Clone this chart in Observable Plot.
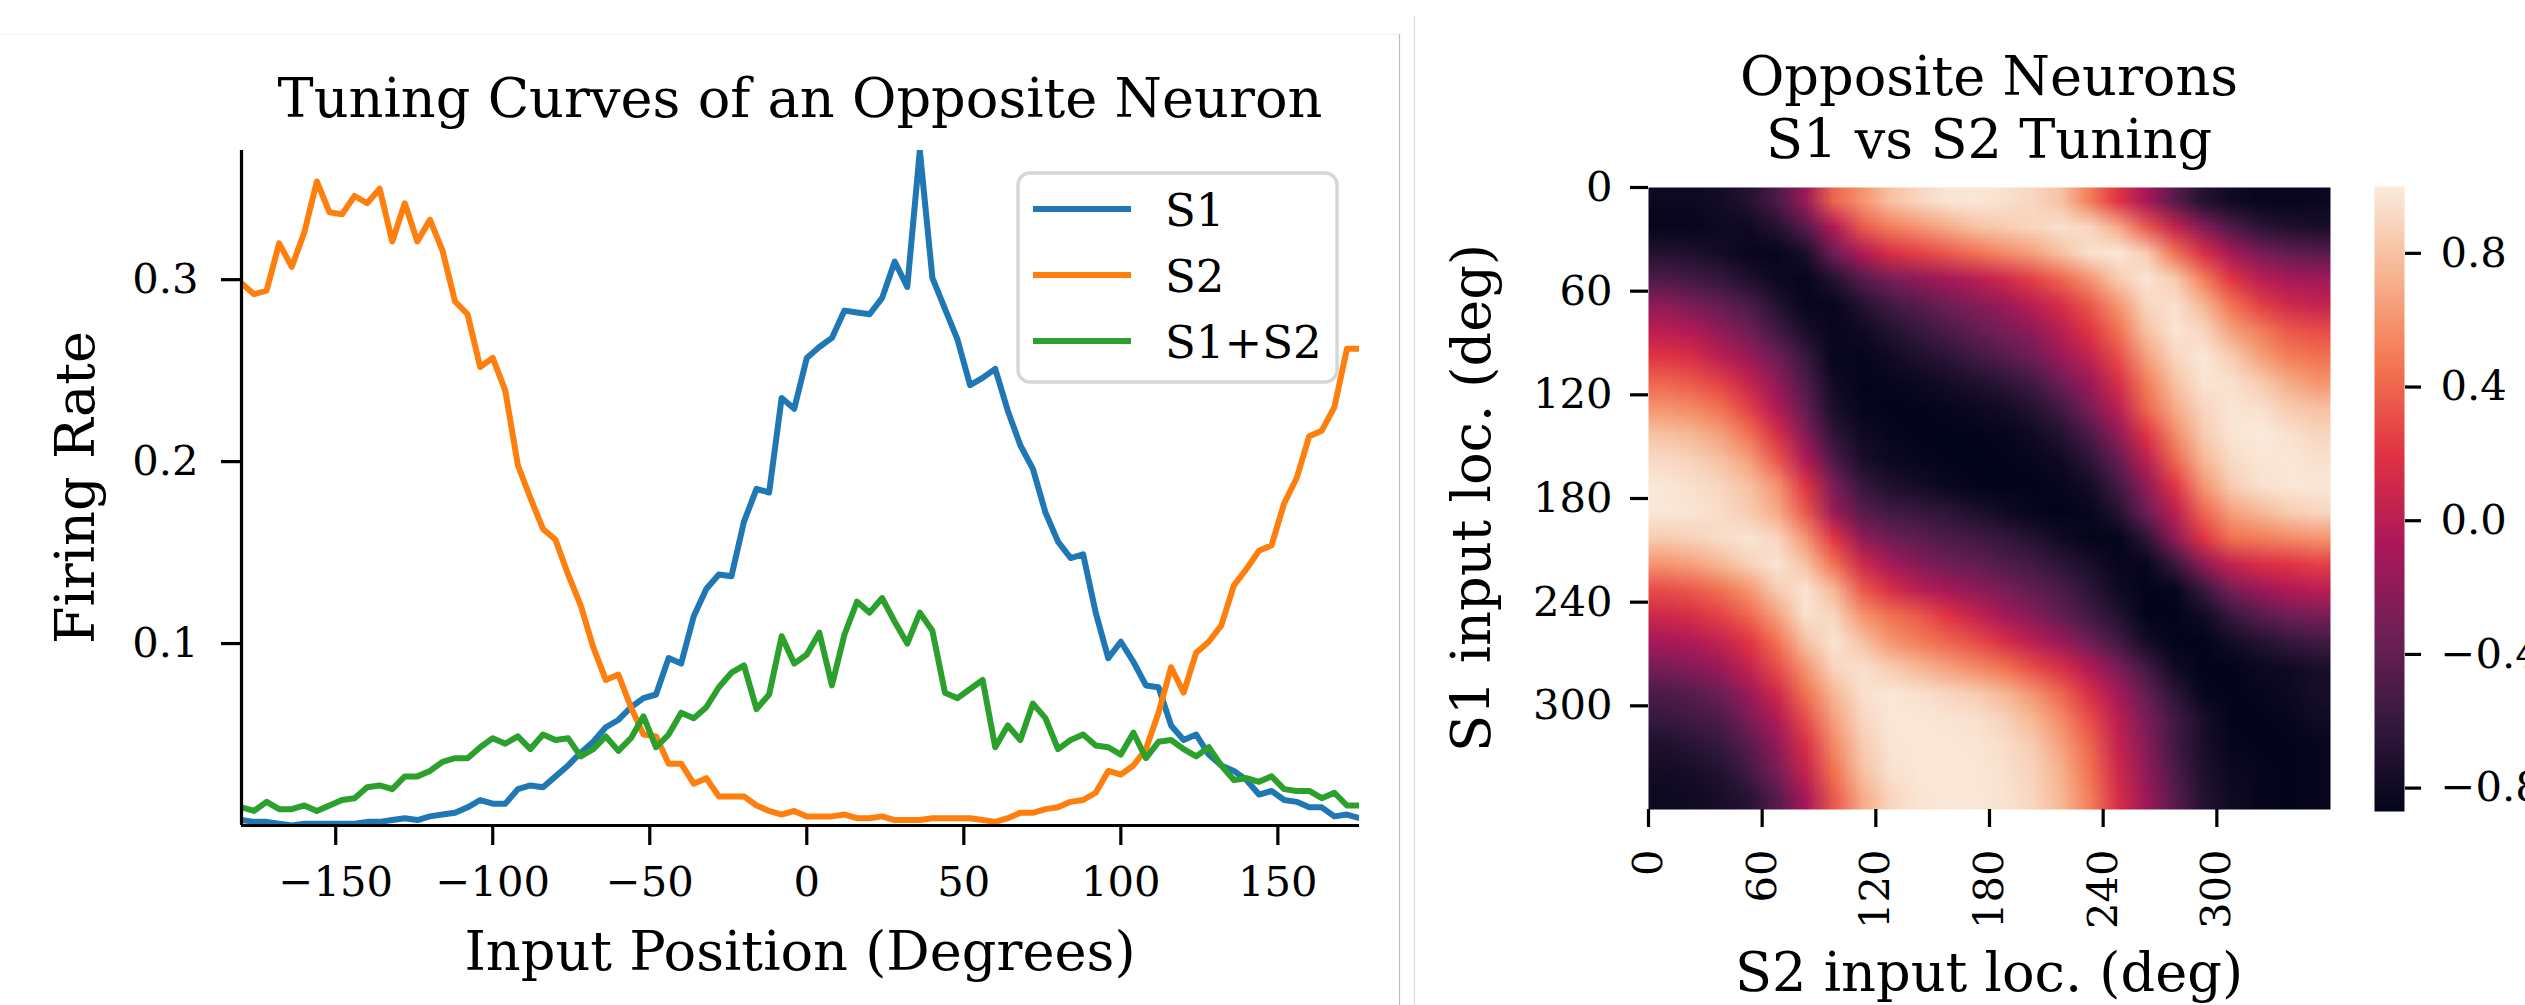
<!DOCTYPE html>
<html><head><meta charset="utf-8">
<script src="https://cdn.jsdelivr.net/npm/d3@7"></script>
<script src="https://cdn.jsdelivr.net/npm/@observablehq/plot@0.6"></script>
<style>
html,body{margin:0;padding:0;background:#fff;overflow:hidden;}
#root{position:relative;width:2525px;height:1005px;overflow:hidden;font-family:"DejaVu Serif",serif;color:#000;background:#fff;}
#root svg{position:absolute;max-width:none;background:transparent;}
</style></head><body><div id="root"></div>
<script>
// ---------- Data: tuning curves (left panel) ----------
const inputPosition = [
 -180,-176,-172,-168,-164,-160,-156,-152,-148,-144,-140,-136,-132,-128,-124,-120,-116,-112,-108,-104,
 -100,-96,-92,-88,-84,-80,-76,-72,-68,-64,-60,-56,-52,-48,-44,-40,-36,-32,-28,-24,
 -20,-16,-12,-8,-4,0,4,8,12,16,20,24,28,32,36,40,44,48,52,56,
 60,64,68,72,76,80,84,88,92,96,100,104,108,112,116,120,124,128,132,136,
 140,144,148,152,156,160,164,168,172,176];
const rateS1 = [
 0.003,0.002,0.002,0.001,0.000,0.001,0.001,0.001,0.001,0.001,
 0.002,0.002,0.003,0.004,0.003,0.005,0.006,0.007,0.010,0.014,
 0.012,0.012,0.020,0.022,0.021,0.027,0.033,0.040,0.046,0.054,
 0.058,0.065,0.070,0.072,0.092,0.089,0.115,0.130,0.138,0.137,
 0.167,0.185,0.183,0.235,0.229,0.257,0.263,0.268,0.283,0.282,
 0.281,0.290,0.310,0.296,0.371,0.301,0.284,0.267,0.242,0.246,
 0.251,0.228,0.209,0.196,0.172,0.156,0.147,0.149,0.117,0.092,
 0.101,0.090,0.077,0.076,0.055,0.047,0.050,0.039,0.033,0.030,
 0.025,0.017,0.019,0.014,0.013,0.010,0.010,0.005,0.006,0.004];
const rateS2 = [
 0.298,0.292,0.294,0.320,0.307,0.326,0.354,0.337,0.336,0.346,
 0.342,0.350,0.321,0.342,0.321,0.333,0.316,0.288,0.281,0.252,
 0.257,0.239,0.198,0.180,0.163,0.157,0.138,0.121,0.098,0.080,
 0.083,0.065,0.050,0.049,0.034,0.034,0.023,0.026,0.016,0.016,
 0.016,0.011,0.008,0.006,0.008,0.005,0.005,0.005,0.006,0.004,
 0.004,0.005,0.003,0.003,0.003,0.004,0.004,0.004,0.004,0.003,
 0.002,0.004,0.007,0.007,0.009,0.010,0.013,0.014,0.018,0.030,
 0.028,0.033,0.042,0.062,0.087,0.073,0.095,0.101,0.110,0.132,
 0.141,0.151,0.154,0.177,0.191,0.214,0.217,0.230,0.262,0.262];
const rateS1S2 = [
 0.010,0.008,0.013,0.009,0.009,0.011,0.008,0.011,0.014,0.015,
 0.021,0.022,0.020,0.027,0.027,0.030,0.035,0.037,0.037,0.043,
 0.048,0.045,0.049,0.042,0.050,0.047,0.048,0.038,0.042,0.049,
 0.041,0.048,0.060,0.043,0.050,0.062,0.059,0.065,0.076,0.084,
 0.088,0.064,0.072,0.104,0.089,0.094,0.106,0.077,0.105,0.123,
 0.117,0.125,0.112,0.100,0.117,0.107,0.073,0.070,0.075,0.080,
 0.043,0.055,0.047,0.067,0.059,0.042,0.047,0.050,0.044,0.043,
 0.039,0.051,0.037,0.046,0.047,0.042,0.038,0.043,0.033,0.025,
 0.026,0.024,0.027,0.020,0.019,0.019,0.015,0.018,0.011,0.011];
const seriesNames = ["S1", "S2", "S1+S2"];
const xTicks = [-150, -100, -50, 0, 50, 100, 150];
const yTicks = [0.1, 0.2, 0.3];

// ---------- Data: S1 vs S2 tuning map (right panel), sampled every 15 deg ----------
// rows: S1 location (7.5 .. 352.5 deg), columns: S2 location (7.5 .. 352.5 deg)
const mapValues = [
 [-0.82,-0.82,-0.78,-0.70,-0.50,-0.15,0.40,0.60,0.80,0.90,0.97,0.98,0.95,0.90,0.80,0.50,0.20,-0.10,-0.45,-0.70,-0.80,-0.85,-0.85,-0.83],
 [-0.85,-0.85,-0.82,-0.80,-0.70,-0.45,-0.05,0.35,0.50,0.60,0.70,0.80,0.85,0.90,0.95,0.90,0.70,0.35,0.05,-0.25,-0.50,-0.65,-0.72,-0.75],
 [-0.70,-0.72,-0.78,-0.85,-0.85,-0.75,-0.35,-0.05,0.15,0.25,0.35,0.45,0.55,0.65,0.80,0.95,0.98,0.85,0.45,0.15,-0.10,-0.30,-0.40,-0.45],
 [-0.50,-0.55,-0.62,-0.72,-0.82,-0.85,-0.70,-0.45,-0.30,-0.20,-0.10,0.00,0.10,0.25,0.40,0.60,0.85,0.97,0.85,0.50,0.20,0.00,-0.10,-0.12],
 [-0.20,-0.30,-0.40,-0.50,-0.70,-0.85,-0.85,-0.70,-0.55,-0.45,-0.35,-0.25,-0.15,0.00,0.15,0.35,0.60,0.90,0.95,0.75,0.45,0.25,0.10,0.05],
 [0.00,-0.05,-0.20,-0.35,-0.55,-0.75,-0.85,-0.80,-0.70,-0.60,-0.50,-0.40,-0.30,-0.20,0.00,0.20,0.45,0.80,0.97,0.90,0.65,0.50,0.35,0.30],
 [0.20,0.15,0.00,-0.15,-0.35,-0.60,-0.85,-0.85,-0.80,-0.72,-0.65,-0.55,-0.45,-0.35,-0.15,0.05,0.30,0.65,0.90,0.98,0.85,0.65,0.50,0.45],
 [0.40,0.35,0.25,0.05,-0.20,-0.50,-0.80,-0.87,-0.85,-0.82,-0.78,-0.72,-0.65,-0.55,-0.35,-0.15,0.15,0.50,0.80,0.97,0.95,0.85,0.70,0.60],
 [0.60,0.55,0.45,0.25,-0.05,-0.40,-0.75,-0.85,-0.87,-0.87,-0.85,-0.82,-0.78,-0.70,-0.55,-0.30,0.00,0.40,0.70,0.90,0.97,0.95,0.85,0.80],
 [0.80,0.75,0.65,0.45,0.15,-0.25,-0.65,-0.80,-0.85,-0.87,-0.87,-0.87,-0.85,-0.80,-0.70,-0.50,-0.20,0.20,0.55,0.85,0.97,1.00,0.95,0.90],
 [0.92,0.88,0.80,0.65,0.35,-0.05,-0.50,-0.75,-0.82,-0.85,-0.87,-0.87,-0.87,-0.85,-0.80,-0.65,-0.40,0.00,0.40,0.75,0.92,0.97,0.98,0.95],
 [0.98,0.95,0.90,0.80,0.60,0.20,-0.30,-0.60,-0.72,-0.78,-0.83,-0.87,-0.87,-0.87,-0.85,-0.78,-0.55,-0.20,0.20,0.60,0.85,0.95,0.98,0.98],
 [0.98,0.97,0.93,0.85,0.70,0.35,-0.15,-0.45,-0.55,-0.60,-0.65,-0.72,-0.80,-0.85,-0.87,-0.85,-0.70,-0.35,0.00,0.40,0.65,0.75,0.85,0.90],
 [0.85,0.88,0.93,0.97,0.90,0.60,0.20,-0.20,-0.35,-0.42,-0.50,-0.55,-0.62,-0.70,-0.80,-0.86,-0.87,-0.65,-0.20,0.20,0.45,0.50,0.55,0.60],
 [0.60,0.65,0.75,0.88,0.97,0.80,0.45,0.10,-0.10,-0.25,-0.35,-0.40,-0.48,-0.55,-0.65,-0.75,-0.85,-0.85,-0.60,-0.20,0.05,0.15,0.20,0.25],
 [0.30,0.35,0.45,0.60,0.85,0.97,0.75,0.35,0.15,0.00,-0.10,-0.20,-0.30,-0.40,-0.50,-0.65,-0.80,-0.87,-0.85,-0.60,-0.30,-0.15,-0.05,0.00],
 [0.10,0.15,0.25,0.40,0.65,0.95,0.90,0.60,0.45,0.35,0.20,0.05,-0.10,-0.25,-0.40,-0.55,-0.70,-0.87,-0.87,-0.80,-0.60,-0.45,-0.35,-0.30],
 [-0.10,-0.05,0.05,0.20,0.45,0.80,0.97,0.80,0.60,0.50,0.40,0.30,0.15,0.00,-0.15,-0.35,-0.55,-0.78,-0.87,-0.87,-0.78,-0.70,-0.62,-0.55],
 [-0.30,-0.25,-0.15,0.05,0.30,0.60,0.90,0.95,0.85,0.75,0.65,0.55,0.45,0.30,0.15,-0.05,-0.30,-0.55,-0.80,-0.87,-0.87,-0.82,-0.80,-0.75],
 [-0.50,-0.45,-0.35,-0.15,0.10,0.45,0.75,0.95,0.98,0.95,0.90,0.85,0.75,0.60,0.40,0.15,-0.10,-0.40,-0.65,-0.85,-0.87,-0.85,-0.82,-0.75],
 [-0.60,-0.55,-0.50,-0.30,-0.05,0.30,0.65,0.90,0.98,0.98,0.97,0.95,0.88,0.75,0.55,0.30,0.00,-0.30,-0.55,-0.75,-0.87,-0.87,-0.85,-0.80],
 [-0.72,-0.68,-0.60,-0.45,-0.20,0.15,0.55,0.85,0.97,0.98,0.98,0.97,0.93,0.85,0.65,0.40,0.05,-0.25,-0.55,-0.75,-0.85,-0.87,-0.87,-0.85],
 [-0.78,-0.75,-0.70,-0.55,-0.30,0.05,0.45,0.80,0.95,0.98,0.98,0.98,0.95,0.88,0.72,0.45,0.10,-0.20,-0.50,-0.72,-0.82,-0.85,-0.87,-0.85],
 [-0.82,-0.80,-0.75,-0.68,-0.45,-0.10,0.35,0.70,0.90,0.97,0.98,0.98,0.96,0.90,0.75,0.50,0.15,-0.15,-0.45,-0.70,-0.80,-0.85,-0.87,-0.85]
];
const mapTicks = [0, 60, 120, 180, 240, 300];
const colorbarTicks = [-0.8, -0.4, 0.0, 0.4, 0.8];

// ---------- Styles ----------
const FONT = "DejaVu Serif";
const TICK_FS = 41.7, LABEL_FS = 54.2, LEGEND_FS = 45;
const seriesColors = ["#1f77b4", "#ff7f0e", "#2ca02c"];
const rocketStops = ["#03051a","#35193e","#701f57","#ad1759","#e13342","#f37651","#f6b48f","#faebdd"];
const rocket = d3.piecewise(d3.interpolateRgb, rocketStops);

const root = document.getElementById("root");
function place(svg, left, top) {
  svg.style.left = left + "px"; svg.style.top = top + "px";
  root.appendChild(svg);
}

// ---------- Left panel: line chart ----------
const rows = [];
[rateS1, rateS2, rateS1S2].forEach((arr, s) =>
  arr.forEach((v, i) => rows.push({x: inputPosition[i], rate: v, series: seriesNames[s]})));
const xDomain = d3.extent(inputPosition);
const yDomain = d3.extent(rows, d => d.rate);

const left = Plot.plot({
  width: 1400, height: 1005,
  marginLeft: 241, marginRight: 41, marginTop: 150, marginBottom: 180,
  style: {fontFamily: FONT, background: "transparent", color: "#000", overflow: "visible"},
  x: {domain: xDomain, axis: null},
  y: {domain: yDomain, axis: null},
  marks: [
    ...seriesNames.map((name, s) =>
      Plot.line(rows.filter(d => d.series === name),
        {x: "x", y: "rate", stroke: seriesColors[s], strokeWidth: 6, clip: true,
         strokeLinejoin: "round", strokeLinecap: "butt"})),
    Plot.ruleX([xDomain[0]], {stroke: "#000", strokeWidth: 3.2}),
    Plot.ruleY([yDomain[0]], {stroke: "#000", strokeWidth: 3.2}),
    Plot.axisX({anchor: "bottom", ticks: xTicks, tickFormat: d3.format("d"), tickSize: 20, tickPadding: 21,
      strokeWidth: 3.2, fontSize: TICK_FS, label: null}),
    Plot.axisY({anchor: "left", ticks: yTicks, tickFormat: d3.format(".1f"), tickSize: 20, tickPadding: 23,
      strokeWidth: 3.2, fontSize: TICK_FS, label: null})
  ]
});
place(left, 0, 0);

// ---------- Right panel: heatmap ----------
const gridH = mapValues.length, gridW = mapValues[0].length;
const flatValues = mapValues.flat();
const colorDomain = d3.extent(flatValues);
const colorScale = {type: "linear", domain: colorDomain, interpolate: rocket};
const angleDomain = [0, 360];

const heat = Plot.plot({
  width: 940, height: 1005,
  marginLeft: 248, marginRight: 10, marginTop: 187, marginBottom: 196,
  style: {fontFamily: FONT, background: "transparent", color: "#000", overflow: "visible"},
  x: {domain: angleDomain, axis: null},
  y: {domain: angleDomain, reverse: true, axis: null},
  color: colorScale,
  marks: [
    Plot.raster(flatValues, {width: gridW, height: gridH,
      x1: angleDomain[0], x2: angleDomain[1], y1: angleDomain[0], y2: angleDomain[1],
      imageRendering: "auto"}),
    Plot.axisX({anchor: "bottom", ticks: mapTicks, tickFormat: d3.format("d"), tickSize: 18, tickPadding: 22,
      tickRotate: -90, strokeWidth: 3.2, fontSize: TICK_FS, label: null}),
    Plot.axisY({anchor: "left", ticks: mapTicks, tickFormat: d3.format("d"), tickSize: 18, tickPadding: 18,
      strokeWidth: 3.2, fontSize: TICK_FS, label: null})
  ]
});
place(heat, 1400, 0);

// ---------- Colorbar ----------
const cbar = Plot.plot({
  width: 151, height: 1005,
  marginLeft: 0, marginRight: 121, marginTop: 186, marginBottom: 194,
  style: {fontFamily: FONT, background: "transparent", color: "#000", overflow: "visible"},
  x: {domain: [0, 1], axis: null},
  y: {domain: colorDomain, axis: null},
  color: colorScale,
  marks: [
    Plot.raster({fill: (x, y) => y, x1: 0, x2: 1, y1: colorDomain[0], y2: colorDomain[1], width: 1, height: 400}),
    Plot.axisY({anchor: "right", ticks: colorbarTicks, tickFormat: d3.format(".1f"), tickSize: 16, tickPadding: 20,
      strokeWidth: 3.2, fontSize: TICK_FS, label: null})
  ]
});
place(cbar, 2374, 0);

// ---------- Overlay: titles, axis labels, legend, panel borders ----------
const ov = d3.create("svg").attr("width", 2525).attr("height", 1005)
  .style("left", "0px").style("top", "0px").style("pointer-events", "none")
  .attr("font-family", FONT);
ov.append("line").attr("x1", 0).attr("x2", 1399).attr("y1", 34.5).attr("y2", 34.5).attr("stroke", "#f2f2f2").attr("stroke-width", 1);
ov.append("line").attr("x1", 1399.5).attr("x2", 1399.5).attr("y1", 34).attr("y2", 1005).attr("stroke", "#bdbdbd").attr("stroke-width", 1.2);
ov.append("line").attr("x1", 1414.5).attr("x2", 1414.5).attr("y1", 16).attr("y2", 1005).attr("stroke", "#dedede").attr("stroke-width", 1.2);

function txt(s, x, y, size, rot) {
  const t = ov.append("text").attr("text-anchor", "middle").attr("font-size", size).attr("fill", "#000").text(s);
  if (rot) t.attr("transform", `translate(${x},${y}) rotate(-90)`);
  else t.attr("x", x).attr("y", y);
  return t;
}
txt("Tuning Curves of an Opposite Neuron", 800, 117, LABEL_FS);
txt("Input Position (Degrees)", 800, 970, LABEL_FS);
txt("Firing Rate", 94, 487.5, LABEL_FS, true);
txt("Opposite Neurons", 1989, 95, LABEL_FS);
txt("S1 vs S2 Tuning", 1989, 158, LABEL_FS);
txt("S1 input loc. (deg)", 1490, 498, LABEL_FS, true);
txt("S2 input loc. (deg)", 1989, 991, LABEL_FS);

// legend
const lg = ov.append("g");
lg.append("rect").attr("x", 1018).attr("y", 173).attr("width", 319).attr("height", 209).attr("rx", 12)
  .attr("fill", "rgba(255,255,255,0.8)").attr("stroke", "#d6d6d6").attr("stroke-width", 3.5);
seriesNames.forEach((name, s) => {
  const cy = 209 + s * 66;
  lg.append("line").attr("x1", 1033).attr("x2", 1131).attr("y1", cy).attr("y2", cy)
    .attr("stroke", seriesColors[s]).attr("stroke-width", 6);
  lg.append("text").attr("x", 1165).attr("y", cy + 16.5).attr("font-size", LEGEND_FS).attr("fill", "#000").text(name);
});
root.appendChild(ov.node());
</script></body></html>
